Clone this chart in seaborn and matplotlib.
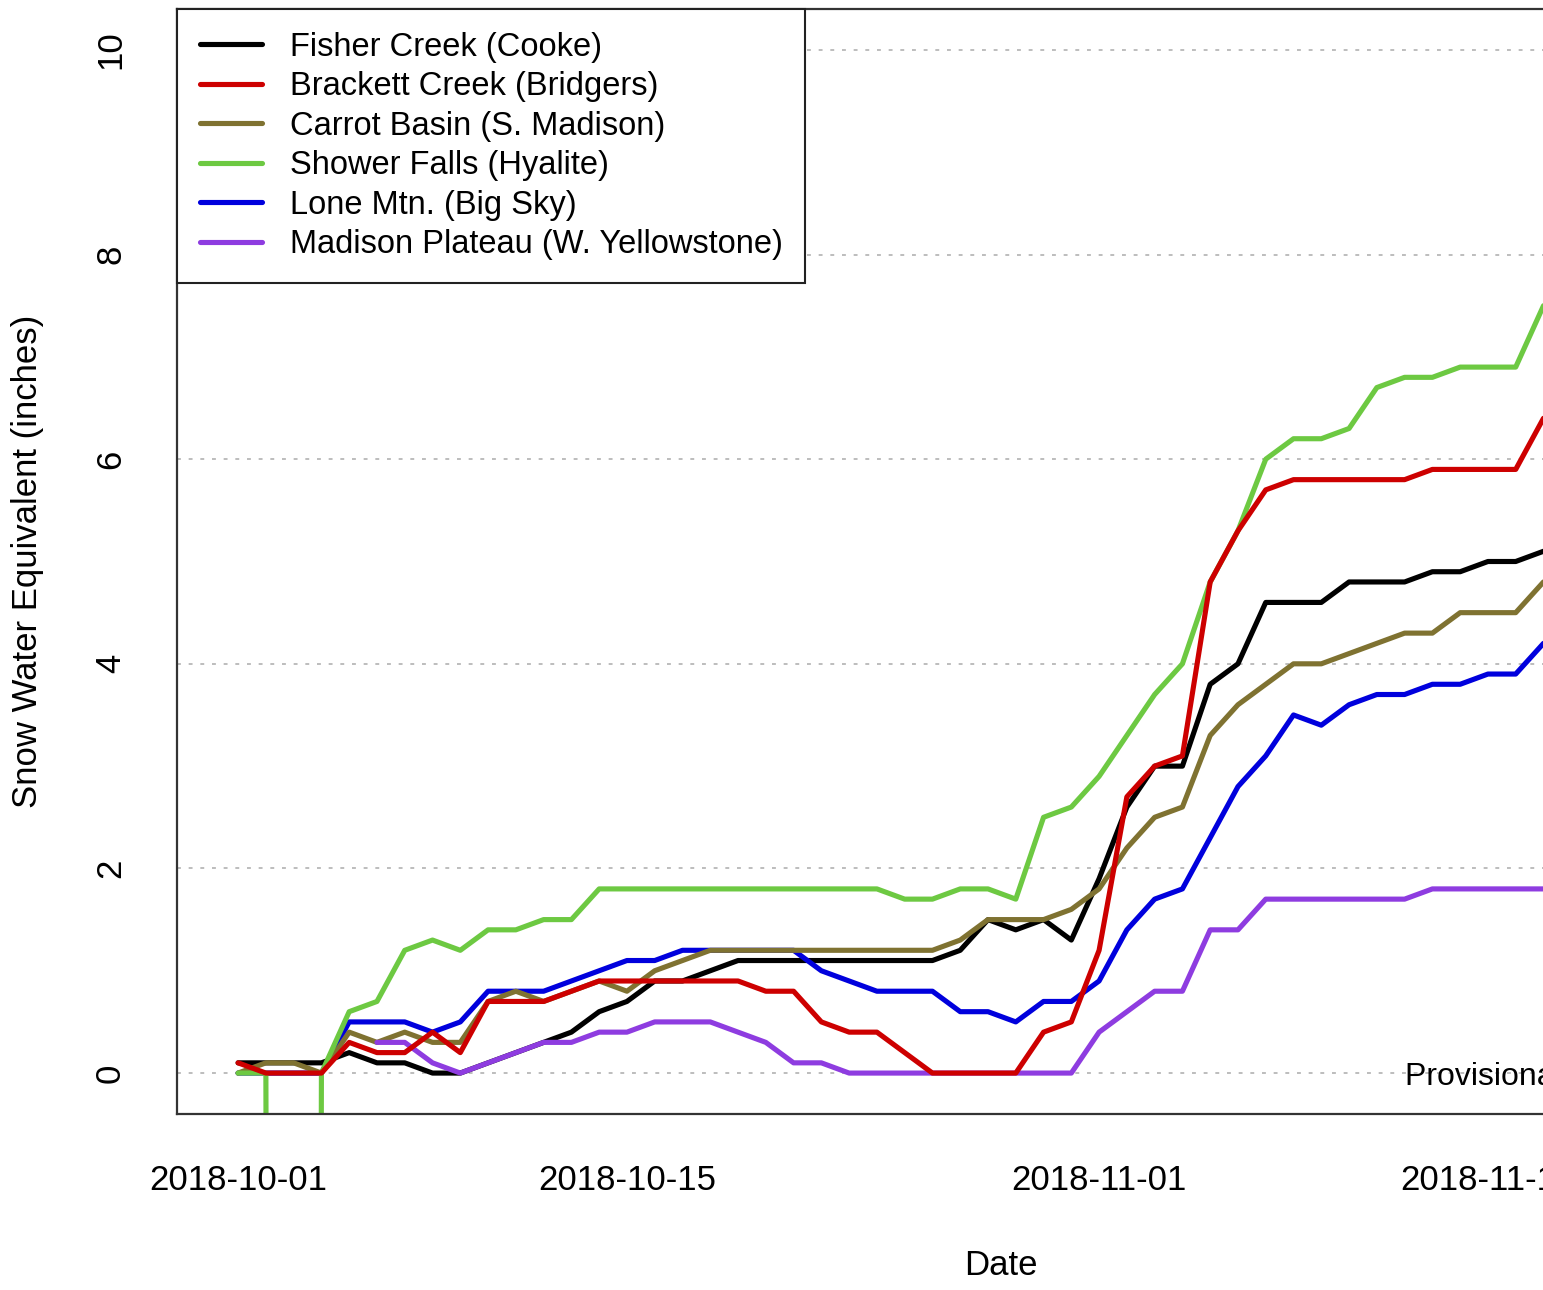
import pandas as pd
import numpy as np
import matplotlib
matplotlib.use("Agg")
import matplotlib.pyplot as plt
import matplotlib.dates as mdates
import seaborn as sns

# -----------------------------
# Data (daily SWE, inches)
# -----------------------------
dates = pd.date_range("2018-10-01", periods=48, freq="D")

fisher_creek = [0.1, 0.1, 0.1, 0.1, 0.2, 0.1, 0.1, 0.0, 0.0, 0.1,
                0.2, 0.3, 0.4, 0.6, 0.7, 0.9, 0.9, 1.0, 1.1, 1.1,
                1.1, 1.1, 1.1, 1.1, 1.1, 1.1, 1.2, 1.5, 1.4, 1.5,
                1.3, 1.9, 2.6, 3.0, 3.0, 3.8, 4.0, 4.6, 4.6, 4.6,
                4.8, 4.8, 4.8, 4.9, 4.9, 5.0, 5.0, 5.1]

brackett_creek = [0.1, 0.0, 0.0, 0.0, 0.3, 0.2, 0.2, 0.4, 0.2, 0.7,
                  0.7, 0.7, 0.8, 0.9, 0.9, 0.9, 0.9, 0.9, 0.9, 0.8,
                  0.8, 0.5, 0.4, 0.4, 0.2, 0.0, 0.0, 0.0, 0.0, 0.4,
                  0.5, 1.2, 2.7, 3.0, 3.1, 4.8, 5.3, 5.7, 5.8, 5.8,
                  5.8, 5.8, 5.8, 5.9, 5.9, 5.9, 5.9, 6.4]

carrot_basin = [0.0, 0.1, 0.1, 0.0, 0.4, 0.3, 0.4, 0.3, 0.3, 0.7,
                0.8, 0.7, 0.8, 0.9, 0.8, 1.0, 1.1, 1.2, 1.2, 1.2,
                1.2, 1.2, 1.2, 1.2, 1.2, 1.2, 1.3, 1.5, 1.5, 1.5,
                1.6, 1.8, 2.2, 2.5, 2.6, 3.3, 3.6, 3.8, 4.0, 4.0,
                4.1, 4.2, 4.3, 4.3, 4.5, 4.5, 4.5, 4.8]

# -99.9 is the missing-value code, it falls off the bottom of the plot
shower_falls = [0.0, 0.0, -99.9, 0.0, 0.6, 0.7, 1.2, 1.3, 1.2, 1.4,
                1.4, 1.5, 1.5, 1.8, 1.8, 1.8, 1.8, 1.8, 1.8, 1.8,
                1.8, 1.8, 1.8, 1.8, 1.7, 1.7, 1.8, 1.8, 1.7, 2.5,
                2.6, 2.9, 3.3, 3.7, 4.0, 4.8, 5.3, 6.0, 6.2, 6.2,
                6.3, 6.7, 6.8, 6.8, 6.9, 6.9, 6.9, 7.5]

lone_mtn = [0.0, 0.0, 0.0, 0.0, 0.5, 0.5, 0.5, 0.4, 0.5, 0.8,
            0.8, 0.8, 0.9, 1.0, 1.1, 1.1, 1.2, 1.2, 1.2, 1.2,
            1.2, 1.0, 0.9, 0.8, 0.8, 0.8, 0.6, 0.6, 0.5, 0.7,
            0.7, 0.9, 1.4, 1.7, 1.8, 2.3, 2.8, 3.1, 3.5, 3.4,
            3.6, 3.7, 3.7, 3.8, 3.8, 3.9, 3.9, 4.2]

madison_plateau = [np.nan, np.nan, np.nan, np.nan, np.nan, 0.3, 0.3, 0.1, 0.0, 0.1,
                   0.2, 0.3, 0.3, 0.4, 0.4, 0.5, 0.5, 0.5, 0.4, 0.3,
                   0.1, 0.1, 0.0, 0.0, 0.0, 0.0, 0.0, 0.0, 0.0, 0.0,
                   0.0, 0.4, 0.6, 0.8, 0.8, 1.4, 1.4, 1.7, 1.7, 1.7,
                   1.7, 1.7, 1.7, 1.8, 1.8, 1.8, 1.8, 1.8]

site_names = [
    "Fisher Creek (Cooke)",
    "Brackett Creek (Bridgers)",
    "Carrot Basin (S. Madison)",
    "Shower Falls (Hyalite)",
    "Lone Mtn. (Big Sky)",
    "Madison Plateau (W. Yellowstone)",
]
site_values = [fisher_creek, brackett_creek, carrot_basin,
               shower_falls, lone_mtn, madison_plateau]
site_colors = ["#000000", "#CD0000", "#7F7231", "#6DC942", "#0000DD", "#8E3CE0"]

# order the lines are drawn in (index into the lists above)
draw_order = [0, 4, 2, 5, 3, 1]

# -----------------------------
# Plot
# -----------------------------
sns.set_style("white")
plt.rcParams["font.family"] = ["Liberation Sans", "DejaVu Sans"]
plt.rcParams["text.color"] = "black"
plt.rcParams["axes.labelcolor"] = "black"
plt.rcParams["xtick.color"] = "black"
plt.rcParams["ytick.color"] = "black"

fig = plt.figure(figsize=(15.43, 12.9), dpi=100)
# axes runs past the right edge of the picture, as in the original crop
ax = fig.add_axes([177 / 1543, 176 / 1290, 1647 / 1543, 1105 / 1290])

for i in draw_order:
    df = pd.DataFrame({"date": dates, "swe": site_values[i]}).dropna()
    sns.lineplot(data=df, x="date", y="swe", color=site_colors[i],
                 linewidth=3.7, label=site_names[i], estimator=None, ax=ax)

start = pd.Timestamp("2018-10-01")
ax.set_xlim(start - pd.Timedelta(days=2.2), start + pd.Timedelta(days=57.1))
ax.set_ylim(-0.4, 10.4)

ax.set_xticks(pd.to_datetime(["2018-10-01", "2018-10-15", "2018-11-01", "2018-11-15"]))
ax.xaxis.set_major_formatter(mdates.DateFormatter("%Y-%m-%d"))
ax.set_yticks([0, 2, 4, 6, 8, 10])
ax.set_yticklabels(["0", "2", "4", "6", "8", "10"], rotation=90, va="center")

ax.tick_params(axis="both", labelsize=25, length=16, width=1.5,
               color="#333333", direction="out")
ax.tick_params(axis="x", pad=20)
ax.tick_params(axis="y", pad=20)

ax.yaxis.grid(True, linestyle=(0, (2, 4)), color="#BDBDBD", linewidth=1.4)
ax.xaxis.grid(False)
ax.set_axisbelow(True)

for side in ["left", "bottom", "top", "right"]:
    ax.spines[side].set_color("#333333")
    ax.spines[side].set_linewidth(1.6)

ax.set_xlabel("Date", fontsize=25, va="center")
ax.xaxis.set_label_coords(0.5, -0.1367)
ax.set_ylabel("Snow Water Equivalent (inches)", fontsize=25, va="center")
ax.yaxis.set_label_coords(-0.0905, 0.5)

ax.text(start + pd.Timedelta(days=42.0), -0.04, "Provisional Data",
        fontsize=23, ha="left", va="center")

handles, labels = ax.get_legend_handles_labels()
lookup = dict(zip(labels, handles))
leg = ax.legend([lookup[n] for n in site_names], site_names,
                loc="upper left", bbox_to_anchor=(0, 1), borderaxespad=0,
                fontsize=23.5, frameon=True, fancybox=False, framealpha=1,
                edgecolor="#222222", borderpad=0.7, handlelength=1.9,
                handletextpad=0.85, labelspacing=0.26)
leg.get_frame().set_linewidth(1.5)

fig.savefig("out.png", dpi=100)
